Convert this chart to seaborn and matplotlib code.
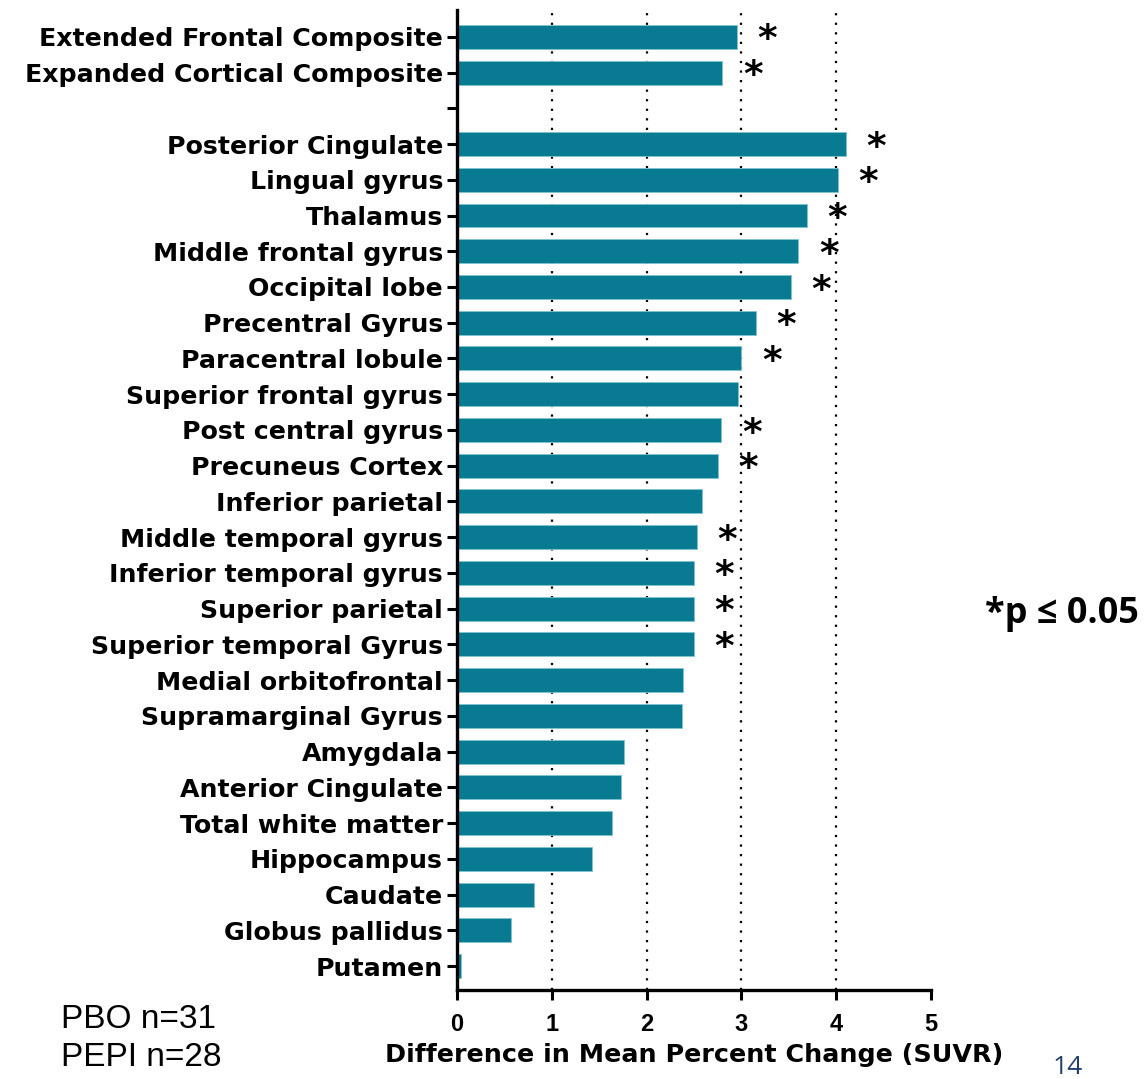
import matplotlib
matplotlib.use("Agg")
import matplotlib.pyplot as plt
import seaborn as sns
import pandas as pd

regions = [
    "Extended Frontal Composite", "Expanded Cortical Composite", "",
    "Posterior Cingulate", "Lingual gyrus", "Thalamus", "Middle frontal gyrus",
    "Occipital lobe", "Precentral Gyrus", "Paracentral lobule",
    "Superior frontal gyrus", "Post central gyrus", "Precuneus Cortex",
    "Inferior parietal", "Middle temporal gyrus", "Inferior temporal gyrus",
    "Superior parietal", "Superior temporal Gyrus", "Medial orbitofrontal",
    "Supramarginal Gyrus", "Amygdala", "Anterior Cingulate",
    "Total white matter", "Hippocampus", "Caudate", "Globus pallidus", "Putamen",
]
values = [
    2.95, 2.80, 0.0,
    4.10, 4.02, 3.69, 3.60, 3.52, 3.15, 3.00, 2.96, 2.79, 2.75, 2.58,
    2.53, 2.50, 2.50, 2.50, 2.38, 2.37, 1.76, 1.73, 1.63, 1.42, 0.81, 0.57, 0.04,
]
significant = [
    True, True, False,
    True, True, True, True, True, True, True, False, True, True, False,
    True, True, True, True, False, False, False, False, False, False, False, False, False,
]
x_ticks = [0, 1, 2, 3, 4, 5]

df = pd.DataFrame({"region": regions, "value": values})
df["key"] = [r if r else " " for r in regions]

sns.set_style("white")
plt.rcParams["font.family"] = ["Liberation Sans", "DejaVu Sans"]
plt.rcParams["text.color"] = "black"
plt.rcParams["axes.labelcolor"] = "black"
plt.rcParams["xtick.color"] = "black"
plt.rcParams["ytick.color"] = "black"

fig = plt.figure(figsize=(11.44, 10.79), dpi=100)
ax = fig.add_axes([457 / 1144, 89 / 1079, (931 - 457) / 1144, (1069 - 89) / 1079])

for g in [1, 2, 3, 4]:
    ax.axvline(g, color="black", linestyle=(0, (1, 3.3)), linewidth=1.6, zorder=0)

sns.barplot(data=df, y="key", x="value", orient="h", color="#087b93",
            saturation=1, width=0.67, ax=ax, zorder=2, edgecolor="#7fc3cf",
            linewidth=0.6)

ax.set_xlim(0, 5)
ax.set_ylim(len(regions) - 1 + 0.67, -0.75)
ax.set_xticks(x_ticks)
ax.set_xticklabels([str(t) for t in x_ticks], fontsize=17, fontweight="bold")
ax.set_yticks(range(len(regions)))
ax.set_yticklabels(regions, fontsize=18.2, fontweight="bold", family="DejaVu Sans")
ax.set_ylabel("")
ax.set_xlabel("Difference in Mean Percent Change (SUVR)", fontsize=18.3,
              fontweight="bold", family="DejaVu Sans", labelpad=5)

for side in ["top", "right"]:
    ax.spines[side].set_visible(False)
for side in ["left", "bottom"]:
    ax.spines[side].set_linewidth(2.4)
    ax.spines[side].set_color("black")
ax.tick_params(axis="both", direction="out", length=7.5, width=2.2, color="black",
               bottom=True, left=True, labelcolor="black")
ax.tick_params(axis="y", pad=2.5)
ax.tick_params(axis="x", pad=9)

for i, (v, s) in enumerate(zip(values, significant)):
    if s:
        ax.text(v + 0.32, i + 0.1, "*", fontsize=27, fontweight="bold",
                family="DejaVu Sans", ha="center", va="center", color="black")

fig.text(61 / 1144, 1 - 1019 / 1079, "PBO n=31", fontsize=24, ha="left", va="center")
fig.text(61 / 1144, 1 - 1058 / 1079, "PEPI n=28", fontsize=24, ha="left", va="center")
fig.text(985 / 1144, 1 - 614 / 1079, "*p ≤ 0.05", fontsize=26, fontweight="bold",
         ha="left", va="center", family=["Open Sans", "DejaVu Sans"])
fig.text(1068 / 1144, 1 - 1068 / 1079, "14", fontsize=19, color="#243f6b",
         ha="center", va="center", family=["Open Sans", "DejaVu Sans"])

fig.savefig("out.png", dpi=100)
